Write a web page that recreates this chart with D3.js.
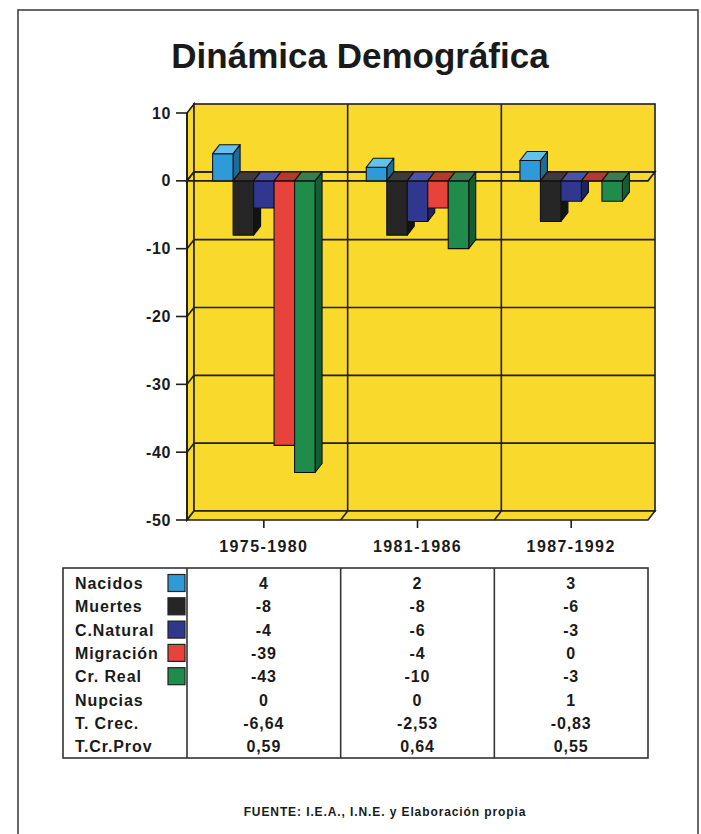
<!DOCTYPE html>
<html>
<head>
<meta charset="utf-8">
<script src="https://cdn.jsdelivr.net/npm/d3@7"></script>
<style>
  html, body { margin: 0; padding: 0; background: #ffffff; }
  svg { display: block; }
  text { font-family: "Liberation Sans", Arial, Helvetica, sans-serif; font-weight: bold; fill: #1a1a1a; }
</style>
</head>
<body>
<svg id="chart" width="701" height="834"></svg>
<script>
// ---------- data ----------
const title = "Dinámica Demográfica";
const categories = ["1975-1980", "1981-1986", "1987-1992"];
const seriesNames = ["Nacidos", "Muertes", "C.Natural", "Migración", "Cr. Real"];
const nacidos   = [4, 2, 3];
const muertes   = [-8, -8, -6];
const cNatural  = [-4, -6, -3];
const migracion = [-39, -4, 0];
const crReal    = [-43, -10, -3];
const nupcias   = [0, 0, 1];
const tCrec     = [-6.64, -2.53, -0.83];
const tCrProv   = [0.59, 0.64, 0.55];
const yTicks    = [10, 0, -10, -20, -30, -40, -50];
const source    = "FUENTE: I.E.A., I.N.E. y Elaboración propia";

const seriesValues = [nacidos, muertes, cNatural, migracion, crReal];
const colors = [
  { front: "#2e9bd8", top: "#62c2ee", side: "#1c6c9a" },
  { front: "#262626", top: "#3c3c3c", side: "#131313" },
  { front: "#2f378e", top: "#4b53a8", side: "#1e245e" },
  { front: "#e8433a", top: "#b23a33", side: "#a32a25" },
  { front: "#1f8c4c", top: "#3a7d52", side: "#155e34" }
];

const esLocale = d3.formatLocale({ decimal: ",", thousands: ".", grouping: [3], currency: ["", " €"], minus: "-" });
const fmt2 = esLocale.format(".2f");
const fmt0 = esLocale.format("d");

const tableRows = [
  { label: "Nacidos",   values: nacidos.map(fmt0),   swatch: 0 },
  { label: "Muertes",   values: muertes.map(fmt0),   swatch: 1 },
  { label: "C.Natural", values: cNatural.map(fmt0),  swatch: 2 },
  { label: "Migración", values: migracion.map(fmt0), swatch: 3 },
  { label: "Cr. Real",  values: crReal.map(fmt0),    swatch: 4 },
  { label: "Nupcias",   values: nupcias.map(fmt0),   swatch: null },
  { label: "T. Crec.",  values: tCrec.map(fmt2),     swatch: null },
  { label: "T.Cr.Prov", values: tCrProv.map(fmt2),   swatch: null }
];

// ---------- layout ----------
const svg = d3.select("#chart");
const DX = 7, DY = 9;                 // 3D depth offset
const plotLeft = 187, plotRight = 648;
const y = d3.scaleLinear().domain([-50, 10]).range([520, 113]);
const x = d3.scaleBand().domain(categories).range([plotLeft, plotRight]).paddingInner(0).paddingOuter(0);
const xs = d3.scaleBand().domain(seriesNames).range([0, x.bandwidth()]).paddingInner(0).paddingOuter(1.25);
const line = "#1e1e1e";
const yellow = "#f8d92c";
const yMin = -50, yMax = 10;

// outer frame
svg.append("rect").attr("x", 18).attr("y", 10).attr("width", 680).attr("height", 900)
  .attr("fill", "none").attr("stroke", "#444").attr("stroke-width", 1.6);

// title
svg.append("text").attr("x", 360).attr("y", 68).attr("text-anchor", "middle")
  .style("font-size", "35px").text(title);

const poly = pts => pts.map(p => p.join(",")).join(" ");

// left wall
svg.append("polygon")
  .attr("points", poly([[plotLeft, y(yMax)], [plotLeft + DX, y(yMax) - DY], [plotLeft + DX, y(yMin) - DY], [plotLeft, y(yMin)]]))
  .attr("fill", yellow).attr("stroke", line).attr("stroke-width", 1.6);
// back wall
svg.append("rect").attr("x", plotLeft + DX).attr("y", y(yMax) - DY)
  .attr("width", plotRight - plotLeft).attr("height", y(yMin) - y(yMax))
  .attr("fill", yellow).attr("stroke", line).attr("stroke-width", 1.6);
// floor
svg.append("polygon")
  .attr("points", poly([[plotLeft, y(yMin)], [plotLeft + DX, y(yMin) - DY], [plotRight + DX, y(yMin) - DY], [plotRight, y(yMin)]]))
  .attr("fill", yellow).attr("stroke", line).attr("stroke-width", 1.6);

// gridlines on walls
const grid = svg.append("g").attr("stroke", line).attr("stroke-width", 1.6).attr("fill", "none");
yTicks.filter(v => v !== yMax && v !== yMin).forEach(v => {
  grid.append("line").attr("x1", plotLeft + DX).attr("x2", plotRight + DX)
    .attr("y1", y(v) - DY).attr("y2", y(v) - DY);
  grid.append("line").attr("x1", plotLeft).attr("x2", plotLeft + DX)
    .attr("y1", y(v)).attr("y2", y(v) - DY);
});
// category dividers on back wall and floor
categories.slice(1).forEach(c => {
  const xb = x(c);
  grid.append("line").attr("x1", xb + DX).attr("x2", xb + DX)
    .attr("y1", y(yMax) - DY).attr("y2", y(yMin) - DY);
  grid.append("line").attr("x1", xb + DX).attr("x2", xb)
    .attr("y1", y(yMin) - DY).attr("y2", y(yMin));
});
// zero plane
svg.append("polygon")
  .attr("points", poly([[plotLeft, y(0)], [plotLeft + DX, y(0) - DY], [plotRight + DX, y(0) - DY], [plotRight, y(0)]]))
  .attr("fill", "none").attr("stroke", line).attr("stroke-width", 1.6);

// bars
const bars = svg.append("g").attr("stroke", "#111").attr("stroke-width", 1.1).attr("stroke-linejoin", "round");
categories.forEach((c, ci) => {
  seriesNames.forEach((s, si) => {
    const v = seriesValues[si][ci];
    const x0 = x(c) + xs(s), w = xs.bandwidth();
    const yt = y(Math.max(v, 0)), yb = y(Math.min(v, 0));
    const col = colors[si];
    const g = bars.append("g");
    // side face
    g.append("polygon").attr("points", poly([[x0 + w, yt], [x0 + w + DX, yt - DY], [x0 + w + DX, yb - DY], [x0 + w, yb]]))
      .attr("fill", col.side);
    // front face
    g.append("rect").attr("x", x0).attr("y", yt).attr("width", w).attr("height", yb - yt)
      .attr("fill", col.front);
    // top face
    g.append("polygon").attr("points", poly([[x0, yt], [x0 + DX, yt - DY], [x0 + w + DX, yt - DY], [x0 + w, yt]]))
      .attr("fill", col.top);
  });
});

// left axis
const ax = svg.append("g");
ax.append("line").attr("x1", plotLeft).attr("x2", plotLeft).attr("y1", y(yMax)).attr("y2", y(yMin))
  .attr("stroke", line).attr("stroke-width", 1.8);
yTicks.forEach(v => {
  ax.append("line").attr("x1", 176).attr("x2", plotLeft).attr("y1", y(v)).attr("y2", y(v))
    .attr("stroke", line).attr("stroke-width", 1.6);
  ax.append("text").attr("x", 171).attr("y", y(v) + 5.5).attr("text-anchor", "end")
    .style("font-size", "16px").style("letter-spacing", "0.6px").text(fmt0(v));
});
// category ticks and labels
categories.forEach(c => {
  const cx = x(c) + x.bandwidth() / 2;
  ax.append("line").attr("x1", cx).attr("x2", cx).attr("y1", y(yMin)).attr("y2", y(yMin) + 8)
    .attr("stroke", line).attr("stroke-width", 1.6);
  ax.append("text").attr("x", cx).attr("y", 552).attr("text-anchor", "middle")
    .style("font-size", "16px").style("letter-spacing", "1.4px").text(c);
});

// data table
const tTop = 568, tBottom = 758, tLeft = 63;
const tb = svg.append("g");
tb.append("rect").attr("x", tLeft).attr("y", tTop).attr("width", plotRight - tLeft).attr("height", tBottom - tTop)
  .attr("fill", "#fff").attr("stroke", "#333").attr("stroke-width", 1.6);
categories.forEach(c => {
  tb.append("line").attr("x1", x(c)).attr("x2", x(c)).attr("y1", tTop).attr("y2", tBottom)
    .attr("stroke", "#333").attr("stroke-width", 1.6);
});
const rowStep = 23.3, firstBase = 589;
tableRows.forEach((r, ri) => {
  const by = firstBase + ri * rowStep;
  tb.append("text").attr("x", 75).attr("y", by)
    .style("font-size", "16px").style("letter-spacing", "0.9px").text(r.label);
  if (r.swatch !== null) {
    tb.append("rect").attr("x", 168).attr("y", by - 14.5).attr("width", 17).attr("height", 17)
      .attr("fill", colors[r.swatch].front).attr("stroke", "#222").attr("stroke-width", 1.2);
  }
  r.values.forEach((val, ci) => {
    tb.append("text").attr("x", x(categories[ci]) + x.bandwidth() / 2).attr("y", by)
      .attr("text-anchor", "middle").style("font-size", "16px").style("letter-spacing", "0.9px").text(val);
  });
});

// source
svg.append("text").attr("x", 385).attr("y", 816).attr("text-anchor", "middle")
  .style("font-size", "12px").style("letter-spacing", "0.9px").text(source);
</script>
</body>
</html>
